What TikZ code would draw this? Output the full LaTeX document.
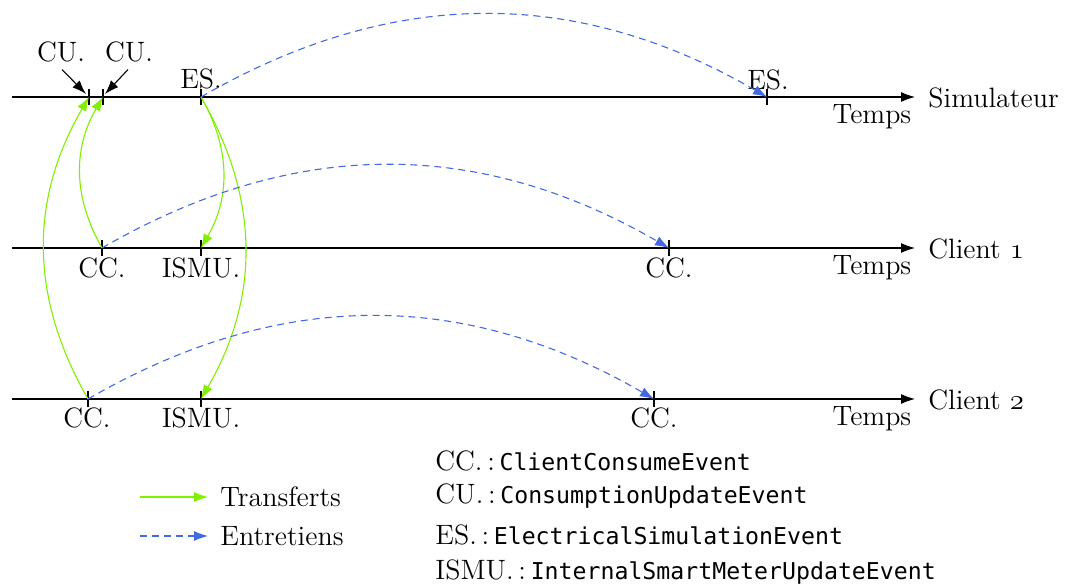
\documentclass[tikz,border=0pt]{standalone}
\usepackage{fontspec}
\newfontfamily\evmono{DejaVu Sans Mono}
\usetikzlibrary{arrows.meta}
\definecolor{tgreen}{RGB}{128,240,0}
\definecolor{tblue}{RGB}{65,105,225}
\tikzset{
  lbl/.style={inner sep=0pt, font=\fontsize{14}{17}\selectfont},
  timeline/.style={line width=0.55pt, -{Latex[length=7pt,width=5pt]}},
  tickmark/.style={line width=0.55pt},
  transfer/.style={tgreen, line width=0.55pt, -{Latex[length=7pt,width=5pt]}},
  entretien/.style={tblue, line width=0.55pt, dash pattern=on 3.5pt off 2.5pt, -{Latex[length=7pt,width=5pt]}},
  pointer/.style={line width=0.55pt, -{Latex[length=7pt,width=5pt]}},
  mono/.style={inner sep=0pt, anchor=west, font=\fontsize{14}{17}\selectfont},
}
\newcommand{\ev}[1]{{\evmono\fontsize{11.6}{14}\selectfont #1}}
\newcommand{\osf}[1]{{\fontencoding{OML}\fontfamily{cmm}\fontseries{m}\fontshape{it}\selectfont #1}}
\begin{document}
\begin{tikzpicture}[x=0.5pt, y=-0.5pt]
\useasboundingbox (0,0) rectangle (1066,588);
% timelines
\coordinate (l0s) at (12,97);   \coordinate (l0e) at (915,97);
\coordinate (l1s) at (12,248);  \coordinate (l1e) at (915,248);
\coordinate (l2s) at (12,399);  \coordinate (l2e) at (915,399);
\draw[timeline] (l0s) -- (l0e);
\draw[timeline] (l1s) -- (l1e);
\draw[timeline] (l2s) -- (l2e);
\node[lbl, anchor=west] (nsim) at (928,98) {Simulateur};
\node[lbl, anchor=west] (ncl1) at (928,249) {Client \osf{1}};
\node[lbl, anchor=west] (ncl2) at (928,400) {Client \osf{2}};
\node[lbl] (t0) at (872,117) {Temps};
\node[lbl] (t1) at (872,268) {Temps};
\node[lbl] (t2) at (872,419) {Temps};
% event points
\coordinate (s1) at (89,97);
\coordinate (s2) at (103,97);
\coordinate (es) at (201,97);
\coordinate (es2) at (767,97);
\coordinate (c1a) at (102,248);
\coordinate (ism1) at (201,248);
\coordinate (c1b) at (669,248);
\coordinate (c2a) at (88,399);
\coordinate (ism2) at (201,399);
\coordinate (c2b) at (654,399);
\foreach \p in {s1,s2,es,es2,c1a,ism1,c1b,c2a,ism2,c2b}
  \draw[tickmark] (\p) ++(0,-8) -- ++(0,16);
% labels
\node[lbl] (cu1) at (61,52) {CU.};
\node[lbl] (cu2) at (129,52) {CU.};
\node[lbl] (les) at (201,79) {ES.};
\node[lbl] (les2) at (768,80) {ES.};
\node[lbl] (lc1a) at (102,268) {CC.};
\node[lbl] (li1) at (201,268) {ISMU.};
\node[lbl] (lc1b) at (669,268) {CC.};
\node[lbl] (lc2a) at (87,418) {CC.};
\node[lbl] (li2) at (201,418) {ISMU.};
\node[lbl] (lc2b) at (654,418) {CC.};
\coordinate (p1) at (86,94);
\coordinate (p2) at (105,94);
\draw[pointer] (cu1.south) ++(1,7) -- (p1);
\draw[pointer] (cu2.south) ++(-1,7) -- (p2);
% transfers
\draw[transfer] (c1a) to[bend left=30] (s2);
\draw[transfer] (c2a) to[bend left=30] (s1);
\draw[transfer] (es) to[bend left=30] (ism1);
\draw[transfer] (es) to[bend left=30] (ism2);
% entretiens
\draw[entretien] (es) to[bend left=30] (es2);
\draw[entretien] (c1a) to[bend left=30] (c1b);
\draw[entretien] (c2a) to[bend left=30] (c2b);
% legend
\coordinate (lg1s) at (140,497); \coordinate (lg1e) at (208,497);
\coordinate (lg2s) at (140,536); \coordinate (lg2e) at (208,536);
\draw[transfer] (lg1s) -- (lg1e);
\draw[entretien] (lg2s) -- (lg2e);
\node[lbl, anchor=west] (ltr) at (220,497) {Transferts};
\node[lbl, anchor=west] (len) at (220,536) {Entretiens};
\node[mono] (d1) at (435,461) {CC.\,:\,\ev{ClientConsumeEvent}};
\node[mono] (d2) at (435,496) {CU.\,:\,\ev{ConsumptionUpdateEvent}};
\node[mono] (d3) at (435,535) {ES.\,:\,\ev{ElectricalSimulationEvent}};
\node[mono] (d4) at (435,572) {ISMU.\,:\,\ev{InternalSmartMeterUpdateEvent}};
\end{tikzpicture}
\end{document}
